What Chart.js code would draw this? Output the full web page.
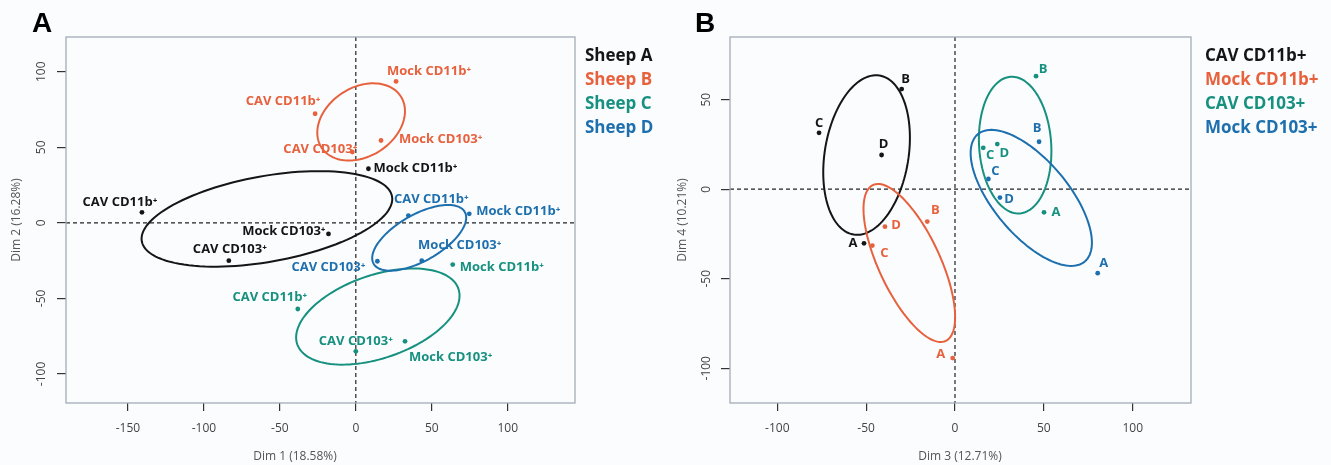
<!DOCTYPE html>
<html>
<head>
<meta charset="utf-8">
<script src="https://cdn.jsdelivr.net/npm/chart.js@4.4.1/dist/chart.umd.min.js"></script>
<style>
html, body { margin: 0; padding: 0; background: #fbfcfe; }
#wrap { position: relative; width: 1331px; height: 465px; overflow: hidden; font-family: "Open Sans", sans-serif; }
canvas { position: absolute; top: 0; }
#chartA { left: 0; }
#chartB { left: 665px; }
.panel { position: absolute; font: bold 28px "Liberation Sans", Arial, sans-serif; line-height: 28px; color: #000; }
.legend { position: absolute; font-weight: 700; font-size: 17px; line-height: 24px; }
.axt { position: absolute; font-size: 12px; color: #555; white-space: nowrap; transform: translate(-50%, -50%); }
.axt.rot { transform: translate(-50%, -50%) rotate(-90deg); }
</style>
</head>
<body>
<div id="wrap">
  <canvas id="chartA" width="665" height="465"></canvas>
  <canvas id="chartB" width="666" height="465"></canvas>
  <div class="panel" style="left:32px;top:9px;">A</div>
  <div class="panel" style="left:695px;top:9px;">B</div>
  <div class="legend" id="legendA" style="left:585px;top:43px;"></div>
  <div class="legend" id="legendB" style="left:1205px;top:43px;"></div>
  <div class="axt" style="left:295px;top:455px;">Dim 1 (18.58%)</div>
  <div class="axt rot" style="left:15px;top:220px;">Dim 2 (16.28%)</div>
  <div class="axt" style="left:960px;top:455px;">Dim 3 (12.71%)</div>
  <div class="axt rot" style="left:681px;top:220px;">Dim 4 (10.21%)</div>
</div>
<script>
// --- Data: panel A (Dim 1 / Dim 2), grouped by sheep ---
const sheepNames = ['Sheep A', 'Sheep B', 'Sheep C', 'Sheep D'];
const cellTypes = ['CAV CD11b⁺', 'Mock CD11b⁺', 'CAV CD103⁺', 'Mock CD103⁺'];
// order inside each row follows cellTypes
const dim1 = [
    [-140.8, 8.3, -83.6, -18.0],
    [-26.8, 26.5, -2.3, 16.6],
    [-38.2, 63.8, 0.0, 32.4],
    [34.6, 74.7, 14.2, 43.4]
];
const dim2 = [
    [7.0, 35.8, -25.0, -7.3],
    [72.2, 93.6, 46.9, 54.5],
    [-57.0, -27.6, -85.0, -78.4],
    [4.8, 6.0, -25.4, -25.0]
];

// --- Data: panel B (Dim 3 / Dim 4), grouped by cell type ---
const groupsB = ['CAV CD11b+', 'Mock CD11b+', 'CAV CD103+', 'Mock CD103+'];
const sheepLetters = ['A', 'B', 'C', 'D'];
// order inside each row follows sheepLetters
const dim3 = [
    [-51.2, -30.0, -76.5, -41.3],
    [-1.3, -15.6, -46.5, -39.4],
    [50.1, 45.6, 15.9, 23.8],
    [80.3, 47.3, 18.8, 25.3]
];
const dim4 = [
    [-30.2, 55.9, 31.5, 19.1],
    [-94.3, -18.1, -31.5, -20.9],
    [-12.9, 63.1, 23.1, 25.2],
    [-46.9, 26.5, 5.7, -4.7]
];

// --- Ticks ---
const xTicksA = [-150, -100, -50, 0, 50, 100];
const yTicksA = [-100, -50, 0, 50, 100];
const xTicksB = [-100, -50, 0, 50, 100];
const yTicksB = [-100, -50, 0, 50];

// --- Styles ---
const palette = ['#151515', '#e8613d', '#16907f', '#1d6fae'];
const ELLIPSE_K = 1.23; // size of the group ellipses (sd multiplier)

// label placement next to each point: [dx, dy, align] in pixels
const labelPosA = [
    [[-22, -10, 'center'], [5, 0, 'left'], [1, -11, 'center'], [-3, -3, 'right']],
    [[-32, -12, 'center'], [33, -10, 'center'], [5, -3, 'right'], [18, -1, 'left']],
    [[-28, -12, 'center'], [7, 3, 'left'], [0, -10, 'center'], [4, 16, 'left']],
    [[23, -16, 'center'], [7, -3, 'left'], [-12, 6, 'right'], [38, -15, 'center']]
];
const labelPosB = [
    [[-11, 0, 'center'], [4, -10, 'center'], [0, -10, 'center'], [2, -11, 'center']],
    [[-12, -4, 'center'], [8, -11, 'center'], [12, 8, 'center'], [11, -1, 'center']],
    [[12, 0, 'center'], [7, -7, 'center'], [7, 7, 'center'], [7, 9, 'center']],
    [[6, -10, 'center'], [-2, -13, 'center'], [7, -8, 'center'], [9, 2, 'center']]
];

// --- Legends ---
function fillLegend(id, names) {
    const el = document.getElementById(id);
    names.forEach((n, i) => {
        const d = document.createElement('div');
        d.textContent = n;
        d.style.color = palette[i];
        el.appendChild(d);
    });
}
fillLegend('legendA', sheepNames);
fillLegend('legendB', groupsB);

// --- Plugin: box, dashed zero lines, ellipses, point labels, y tick labels ---
const pcaPlugin = {
    id: 'pcaDecor',
    beforeDatasetsDraw(chart) {
        const { ctx, chartArea: a, scales: { x, y } } = chart;
        const cfg = chart.options.plugins.pcaDecor;
        ctx.save();
        // dashed zero lines
        ctx.strokeStyle = '#222';
        ctx.lineWidth = 1.2;
        ctx.setLineDash([4, 3]);
        const x0 = x.getPixelForValue(0), y0 = y.getPixelForValue(0);
        ctx.beginPath();
        ctx.moveTo(x0, a.top); ctx.lineTo(x0, a.bottom);
        ctx.moveTo(a.left, y0); ctx.lineTo(a.right, y0);
        ctx.stroke();
        ctx.setLineDash([]);
        // group ellipses from each group's covariance
        ctx.lineWidth = 2;
        cfg.xs.forEach((gx, g) => {
            const gy = cfg.ys[g];
            const n = gx.length;
            const mx = gx.reduce((s, v) => s + v, 0) / n;
            const my = gy.reduce((s, v) => s + v, 0) / n;
            let sxx = 0, syy = 0, sxy = 0;
            for (let i = 0; i < n; i++) {
                sxx += (gx[i] - mx) ** 2;
                syy += (gy[i] - my) ** 2;
                sxy += (gx[i] - mx) * (gy[i] - my);
            }
            sxx /= n - 1; syy /= n - 1; sxy /= n - 1;
            const tr = (sxx + syy) / 2;
            const d = Math.sqrt(((sxx - syy) / 2) ** 2 + sxy * sxy);
            const ra = ELLIPSE_K * Math.sqrt(tr + d);
            const rb = ELLIPSE_K * Math.sqrt(Math.max(tr - d, 0));
            const th = 0.5 * Math.atan2(2 * sxy, sxx - syy);
            ctx.strokeStyle = palette[g];
            ctx.beginPath();
            for (let k = 0; k <= 120; k++) {
                const t = 2 * Math.PI * k / 120;
                const ex = mx + ra * Math.cos(t) * Math.cos(th) - rb * Math.sin(t) * Math.sin(th);
                const ey = my + ra * Math.cos(t) * Math.sin(th) + rb * Math.sin(t) * Math.cos(th);
                const px = x.getPixelForValue(ex), py = y.getPixelForValue(ey);
                if (k === 0) ctx.moveTo(px, py); else ctx.lineTo(px, py);
            }
            ctx.stroke();
        });
        ctx.restore();
    },
    afterDatasetsDraw(chart) {
        const { ctx, chartArea: a, scales: { y } } = chart;
        const cfg = chart.options.plugins.pcaDecor;
        ctx.save();
        // point labels
        ctx.font = 'bold 13px "Open Sans"';
        ctx.textBaseline = 'middle';
        chart.data.datasets.forEach((ds, g) => {
            const meta = chart.getDatasetMeta(g);
            ctx.fillStyle = palette[g];
            meta.data.forEach((pt, i) => {
                const [dx, dy, align] = cfg.pos[g][i];
                ctx.textAlign = align;
                ctx.fillText(cfg.names[i], pt.x + dx, pt.y + dy);
            });
        });
        // plot box
        ctx.strokeStyle = '#a3acb6';
        ctx.lineWidth = 1.3;
        ctx.strokeRect(a.left, a.top, a.right - a.left, a.bottom - a.top);
        // rotated y tick labels
        ctx.fillStyle = '#444';
        ctx.font = '12px "Open Sans"';
        ctx.textAlign = 'center';
        cfg.yTicks.forEach(v => {
            ctx.save();
            ctx.translate(cfg.yLabelX, y.getPixelForValue(v));
            ctx.rotate(-Math.PI / 2);
            ctx.fillText(String(v), 0, 0);
            ctx.restore();
        });
        ctx.restore();
    }
};

function makeChart(canvasId, xs, ys, names, pos, opt) {
    const datasets = xs.map((gx, g) => ({
        data: gx.map((v, i) => ({ x: v, y: ys[g][i] })),
        backgroundColor: palette[g],
        borderWidth: 0,
        pointRadius: 2.4,
        pointHoverRadius: 2.4
    }));
    const ctx = document.getElementById(canvasId).getContext('2d');
    return new Chart(ctx, {
        type: 'scatter',
        data: { datasets },
        plugins: [pcaPlugin],
        options: {
            responsive: false,
            animation: false,
            events: [],
            layout: { padding: { left: 0, top: 37, right: opt.padRight, bottom: 0 } },
            plugins: {
                legend: { display: false },
                tooltip: { enabled: false },
                pcaDecor: { xs, ys, names, pos, yTicks: opt.yTicks, yLabelX: opt.yLabelX }
            },
            scales: {
                x: {
                    type: 'linear',
                    min: opt.xRange[0], max: opt.xRange[1],
                    afterBuildTicks: s => { s.ticks = opt.xTicks.map(v => ({ value: v })); },
                    afterFit: s => { s.height = 62; },
                    border: { display: false },
                    grid: { drawOnChartArea: false, drawTicks: true, tickLength: 8, color: '#333', lineWidth: 1.2 },
                    ticks: { color: '#444', font: { family: 'Open Sans', size: 12 }, padding: 10, maxRotation: 0, autoSkip: false }
                },
                y: {
                    type: 'linear',
                    min: opt.yRange[0], max: opt.yRange[1],
                    afterBuildTicks: s => { s.ticks = opt.yTicks.map(v => ({ value: v })); },
                    afterFit: s => { s.width = opt.yWidth; },
                    border: { display: false },
                    grid: { drawOnChartArea: false, drawTicks: true, tickLength: 9, color: '#333', lineWidth: 1.2 },
                    ticks: { display: false }
                }
            }
        }
    });
}

makeChart('chartA', dim1, dim2, cellTypes, labelPosA, {
    xRange: [-190.8, 144.3], yRange: [-119.2, 123.0],
    xTicks: xTicksA, yTicks: yTicksA,
    padRight: 90, yWidth: 66, yLabelX: 42
});
makeChart('chartB', dim3, dim4, sheepLetters, labelPosB, {
    xRange: [-126.6, 132.8], yRange: [-119.4, 85.0],
    xTicks: xTicksB, yTicks: yTicksB,
    padRight: 140, yWidth: 65, yLabelX: 42
});
</script>
</body>
</html>
